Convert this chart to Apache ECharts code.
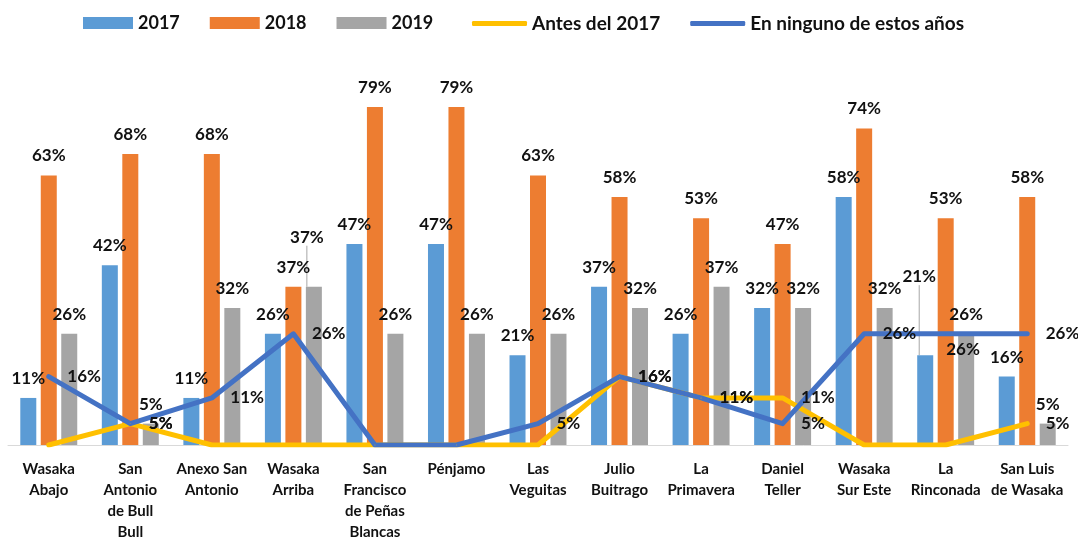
<!DOCTYPE html>
<html>
<head>
<meta charset="utf-8">
<script src="https://cdn.jsdelivr.net/npm/echarts@6/dist/echarts.min.js"></script>
<style>
  html, body { margin: 0; padding: 0; background: #fff; }
  #chart { width: 1078px; height: 537px; }
</style>
</head>
<body>
<div id="chart"></div>
<script>
// ---- data ----
const categories = [
  'Wasaka\nAbajo', 'San\nAntonio\nde Bull\nBull', 'Anexo San\nAntonio', 'Wasaka\nArriba',
  'San\nFrancisco\nde Peñas\nBlancas', 'Pénjamo', 'Las\nVeguitas', 'Julio\nBuitrago',
  'La\nPrimavera', 'Daniel\nTeller', 'Wasaka\nSur Este', 'La\nRinconada', 'San Luis\nde Wasaka'
];
const seriesNames = ['2017', '2018', '2019', 'Antes del 2017', 'En ninguno de estos años'];
const v2017 = [11, 42, 11, 26, 47, 47, 21, 37, 26, 32, 58, 21, 16];
const v2018 = [63, 68, 68, 37, 79, 79, 63, 58, 53, 47, 74, 53, 58];
const v2019 = [26, 5, 32, 37, 26, 26, 26, 32, 37, 32, 32, 26, 5];
const antes = [0, 5, 0, 0, 0, 0, 0, 16, 11, 11, 0, 0, 5];
const ninguno = [16, 5, 11, 26, 0, 0, 5, 16, 11, 5, 26, 26, 26];

// label displacements (dx, dy) for a few labels, by series name and index
const labelMoves = {
  '2017': { 11: [-6, -59] },
  '2019': { 3: [-7, -30] },
  'En ninguno de estos años': { 11: [-18, 16] }
};

const FONT = 'Lato, "Open Sans", sans-serif';
const colors = ['#5B9BD5', '#ED7D31', '#A5A5A5', '#FFC000', '#4472C4'];

function pct(p) { return p.value === 0 ? '' : p.value + '%'; }

function layoutFor(name) {
  const m = labelMoves[name] || {};
  return function (params) {
    const d = m[params.dataIndex];
    return d ? { dx: d[0], dy: d[1] } : {};
  };
}

function barData(name, arr) {
  const m = labelMoves[name] || {};
  return arr.map((v, i) => m[i] ? { value: v, labelLine: { show: true } } : v);
}

const barLabel = {
  show: true, position: 'top', distance: 11,
  fontFamily: FONT, fontWeight: 'bold', fontSize: 17, color: '#111',
  formatter: pct
};
const lineLabel = {
  show: true, position: 'right', distance: 18, offset: [0, 3],
  fontFamily: FONT, fontWeight: 'bold', fontSize: 17, color: '#111',
  formatter: pct
};

function bar(idx, arr) {
  const name = seriesNames[idx];
  return {
    name, type: 'bar', data: barData(name, arr),
    barWidth: 16, barGap: '28%',
    itemStyle: { color: colors[idx] },
    label: barLabel,
    labelLayout: layoutFor(name),
    labelLine: { show: false, lineStyle: { color: '#A6A6A6', width: 1 } }
  };
}
function line(idx, arr) {
  const name = seriesNames[idx];
  return {
    name, type: 'line', data: arr,
    symbol: 'circle', symbolSize: 1, showSymbol: true,
    lineStyle: { color: colors[idx], width: 5, cap: 'round', join: 'round' },
    itemStyle: { color: colors[idx] },
    label: lineLabel,
    labelLayout: layoutFor(name),
    z: 5
  };
}

const chart = echarts.init(document.getElementById('chart'), null, { renderer: 'canvas' });
chart.setOption({
  animation: false,
  color: colors,
  legend: [
    {
      data: seriesNames.slice(0, 3).map(n => ({ name: n, icon: 'rect' })),
      left: 78, top: 9, itemWidth: 50, itemHeight: 12, itemGap: 30,
      textStyle: { fontFamily: FONT, fontWeight: 'bold', fontSize: 18, color: '#111' }
    },
    {
      data: seriesNames.slice(3).map(n => ({ name: n, icon: 'roundRect' })),
      left: 467, top: 9, itemWidth: 55, itemHeight: 5, itemGap: 30,
      textStyle: { fontFamily: FONT, fontWeight: 'bold', fontSize: 19, color: '#111' }
    }
  ],
  grid: { left: 8, right: 10, top: 60, bottom: 92, containLabel: false, outerBoundsMode: 'none' },
  xAxis: {
    type: 'category', data: categories,
    axisLine: { lineStyle: { color: '#D9D9D9', width: 1 } },
    axisTick: { show: false },
    axisLabel: {
      interval: 0, margin: 14, fontFamily: FONT, fontWeight: 'bold', fontSize: 15,
      lineHeight: 21, color: '#111'
    }
  },
  yAxis: { type: 'value', min: 0, max: 90, show: false, splitLine: { show: false } },
  series: [
    bar(0, v2017), bar(1, v2018), bar(2, v2019),
    line(3, antes), line(4, ninguno)
  ]
});
</script>
</body>
</html>
